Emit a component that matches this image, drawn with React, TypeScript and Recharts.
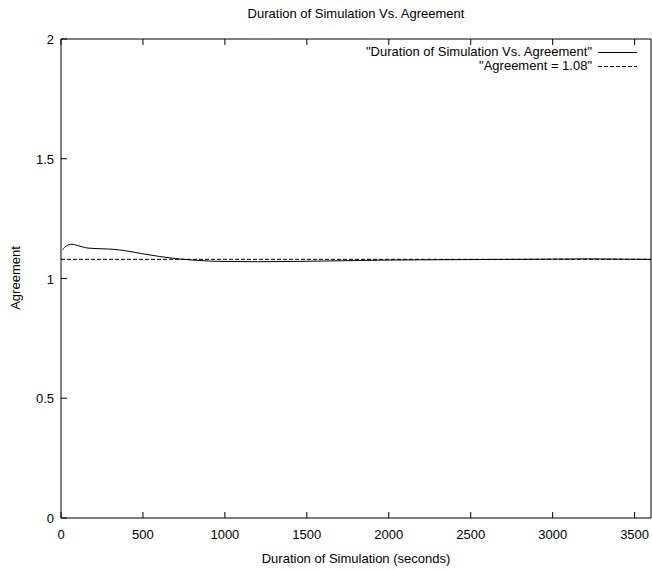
import { LineChart, Line, XAxis, YAxis, ReferenceLine } from "recharts";

// seconds of simulation
const seconds = [10, 30, 67, 100, 165, 250, 318, 400, 500, 600, 700, 800, 900, 1000, 1200, 1400, 1600, 1800, 2000, 2200, 2500, 2800, 3000, 3200, 3400, 3600];
// measured agreement
const agreement = [1.12, 1.135, 1.143, 1.138, 1.127, 1.124, 1.122, 1.115, 1.103, 1.092, 1.083, 1.077, 1.073, 1.071, 1.07, 1.071, 1.073, 1.075, 1.077, 1.078, 1.079, 1.08, 1.081, 1.082, 1.081, 1.08];
const agreementLevel = 1.08;

const xTicks = [0, 500, 1000, 1500, 2000, 2500, 3000, 3500];
const yTicks = [0, 0.5, 1, 1.5, 2];

const data = seconds.map((t, i) => ({ t, agreement: agreement[i] }));

const FONT = '"Liberation Sans", Arial, Helvetica, sans-serif';
const FS = 13;
const TICK = 6;

const BottomTick = (props: any) => {
    const { x, y, payload } = props;
    return (
        <g>
            <line x1={x} y1={y} x2={x} y2={y - TICK} stroke="#000" />
            <text x={x} y={y + 21} textAnchor="middle" fontSize={FS} fontFamily={FONT} fill="#000">{payload.value}</text>
        </g>
    );
};

const TopTick = (props: any) => {
    const { x, y } = props;
    return <line x1={x} y1={y} x2={x} y2={y + TICK} stroke="#000" />;
};

const LeftTick = (props: any) => {
    const { x, y, payload } = props;
    return (
        <g>
            <line x1={x} y1={y} x2={x + TICK} y2={y} stroke="#000" />
            <text x={x - 7} y={y + 5} textAnchor="end" fontSize={FS} fontFamily={FONT} fill="#000">{payload.value}</text>
        </g>
    );
};

const RightTick = (props: any) => {
    const { x, y } = props;
    return <line x1={x} y1={y} x2={x - TICK} y2={y} stroke="#000" />;
};

const keyRows = [
    { name: '"Duration of Simulation Vs. Agreement"', dash: undefined },
    { name: '"Agreement = 1.08"', dash: "4 2" },
];

export default function App() {
    return (
        <div style={{ position: "absolute", left: 0, top: 0, width: 652, height: 570, background: "#fff" }}>
            <div style={{ position: "absolute", left: 61, width: 590, top: 6, textAlign: "center", fontFamily: FONT, fontSize: FS }}>
                Duration of Simulation Vs. Agreement
            </div>
            <div style={{ position: "absolute", right: 15, top: 45, fontFamily: FONT, fontSize: FS, lineHeight: "14px", zIndex: 2 }}>
                {keyRows.map((row) => (
                    <div key={row.name} style={{ display: "flex", justifyContent: "flex-end", alignItems: "center" }}>
                        <span>{row.name}</span>
                        <svg width={39} height={14} style={{ marginLeft: 6 }}>
                            <line x1={0} y1={7.5} x2={39} y2={7.5} stroke="#000" strokeDasharray={row.dash} />
                        </svg>
                    </div>
                ))}
            </div>
            <LineChart width={652} height={570} data={data} margin={{ top: 38, right: 0, bottom: 0, left: 0 }}>
                <XAxis
                    dataKey="t"
                    type="number"
                    domain={[0, 3600]}
                    ticks={xTicks}
                    height={52}
                    tickSize={0}
                    tickMargin={0}
                    tickLine={false}
                    axisLine={{ stroke: "#000" }}
                    tick={<BottomTick />}
                    interval={0}
                    label={{ value: "Duration of Simulation (seconds)", position: "insideBottom", offset: 7, fontSize: FS, fontFamily: FONT, fill: "#000" }}
                />
                <XAxis
                    xAxisId="top"
                    dataKey="t"
                    type="number"
                    orientation="top"
                    domain={[0, 3600]}
                    ticks={xTicks}
                    height={1}
                    tickSize={0}
                    tickMargin={0}
                    tickLine={false}
                    axisLine={{ stroke: "#000" }}
                    tick={<TopTick />}
                    interval={0}
                />
                <YAxis
                    type="number"
                    domain={[0, 2]}
                    ticks={yTicks}
                    width={61}
                    tickSize={0}
                    tickMargin={0}
                    tickLine={false}
                    axisLine={{ stroke: "#000" }}
                    tick={<LeftTick />}
                    interval={0}
                    label={{
                        content: () => (
                            <text x={20} y={278} transform="rotate(-90 20 278)" textAnchor="middle" fontSize={FS} fontFamily={FONT} fill="#000">
                                Agreement
                            </text>
                        ),
                    }}
                />
                <YAxis
                    yAxisId="right"
                    orientation="right"
                    type="number"
                    domain={[0, 2]}
                    ticks={yTicks}
                    width={1}
                    tickSize={0}
                    tickMargin={0}
                    tickLine={false}
                    axisLine={{ stroke: "#000" }}
                    tick={<RightTick />}
                    interval={0}
                />
                <ReferenceLine y={agreementLevel} stroke="#000" strokeDasharray="4 2" />
                <Line type="monotone" dataKey="agreement" stroke="#000" strokeWidth={1} dot={false} isAnimationActive={false} />
            </LineChart>
        </div>
    );
}
